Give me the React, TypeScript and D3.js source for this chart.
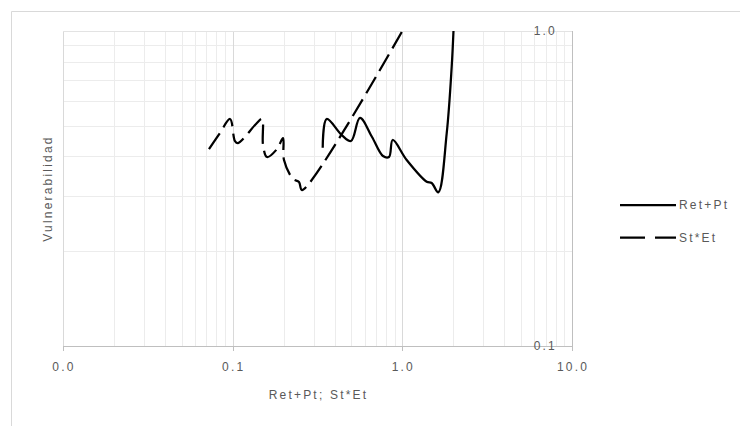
import React from "react";
import * as d3 from "d3";

// Ret+Pt series (x, vulnerability)
const retPtX = [0.3394, 0.3583, 0.4391, 0.4982, 0.5628, 0.6627, 0.7691, 0.8346, 0.8774, 1.061, 1.392, 1.489, 1.629, 1.826, 1.954, 2.002];
const retPtY = [0.4261, 0.5256, 0.4675, 0.4474, 0.5295, 0.4608, 0.401, 0.3981, 0.4508, 0.3895, 0.3324, 0.3293, 0.3075, 0.4733, 0.7703, 1.0];

// St*Et series
const stEtX = [0.0725, 0.0842, 0.0965, 0.1032, 0.1075, 0.1373, 0.1489, 0.151, 0.1594, 0.1825, 0.198, 0.2007, 0.2268, 0.246, 0.2562, 1.0];
const stEtY = [0.422, 0.4747, 0.5256, 0.4474, 0.4409, 0.5069, 0.5256, 0.4345, 0.3981, 0.422, 0.4573, 0.3895, 0.339, 0.3316, 0.3127, 1.0];

const xTickValues = [0.01, 0.1, 1, 10];
const xTickLabels = ["0.0", "0.1", "1.0", "10.0"];
const yTickValues = [0.1, 1];
const yTickLabels = ["0.1", "1.0"];

const seriesNames = ["Ret+Pt", "St*Et"];
const xTitle = "Ret+Pt; St*Et";
const yTitle = "Vulnerabilidad";

const W = 740;
const H = 426;
const left = 63;
const right = 572;
const top = 31;
const bottom = 346;

const textColor = "#595959";
const font = "'Liberation Sans', Arial, sans-serif";

export default function App() {
  const x = d3.scaleLog().domain([0.01, 10]).range([left, right]);
  const y = d3.scaleLog().domain([0.1, 1]).range([bottom, top]);

  const minorX: number[] = [];
  for (const dec of [0.01, 0.1, 1]) for (let k = 2; k <= 9; k++) minorX.push(dec * k);
  const minorY: number[] = [];
  for (let k = 2; k <= 9; k++) minorY.push(0.1 * k);

  const line = d3
    .line<[number, number]>()
    .x((d) => x(d[0]))
    .y((d) => y(d[1]))
    .curve(d3.curveCatmullRom.alpha(0.5));

  const solidPts = retPtX.map((v, i) => [v, retPtY[i]] as [number, number]);
  const dashPts = stEtX.map((v, i) => [v, stEtY[i]] as [number, number]);

  const textStyle = { fontFamily: font, fontSize: 12, fill: textColor, letterSpacing: "2.2px" } as React.CSSProperties;

  return (
    <svg width={W} height={H} style={{ position: "absolute", left: 0, top: 0 }}>
      <rect width={W} height={H} fill="#fff" />
      {/* chart frame */}
      <path d={`M11.5,${H} V11.5 H${W}`} fill="none" stroke="#d9d9d9" strokeWidth={1} />

      {/* minor gridlines */}
      {minorX.map((v) => (
        <line key={"mx" + v} x1={Math.round(x(v)) + 0.5} x2={Math.round(x(v)) + 0.5} y1={top} y2={bottom} stroke="#ececec" />
      ))}
      {minorY.map((v) => (
        <line key={"my" + v} y1={Math.round(y(v)) + 0.5} y2={Math.round(y(v)) + 0.5} x1={left} x2={right} stroke="#ececec" />
      ))}
      {/* major gridlines */}
      {xTickValues.slice(0, 3).map((v) => (
        <line key={"Mx" + v} x1={Math.round(x(v)) + 0.5} x2={Math.round(x(v)) + 0.5} y1={top} y2={bottom} stroke="#d9d9d9" />
      ))}
      <line x1={left} x2={right} y1={top + 0.5} y2={top + 0.5} stroke="#e3e3e3" />

      {/* axes */}
      <line x1={left} x2={right + 1} y1={bottom + 0.5} y2={bottom + 0.5} stroke="#bfbfbf" />
      <line x1={right + 0.5} x2={right + 0.5} y1={top} y2={bottom + 5} stroke="#bfbfbf" />
      {xTickValues.map((v) => (
        <line key={"xt" + v} x1={Math.round(x(v)) + 0.5} x2={Math.round(x(v)) + 0.5} y1={bottom} y2={bottom + 5} stroke="#bfbfbf" />
      ))}

      {/* tick labels */}
      {xTickValues.map((v, i) => (
        <text key={"xl" + v} x={x(v) + 1} y={371} textAnchor="middle" style={textStyle}>
          {xTickLabels[i]}
        </text>
      ))}
      {yTickValues.map((v, i) => (
        <text key={"yl" + v} x={557} y={y(v) + 4} textAnchor="end" style={textStyle}>
          {yTickLabels[i]}
        </text>
      ))}

      {/* axis titles */}
      <text x={(left + right) / 2 + 1} y={399} textAnchor="middle" style={textStyle}>
        {xTitle}
      </text>
      <text
        transform={`translate(52,${(top + bottom) / 2}) rotate(-90)`}
        textAnchor="middle"
        style={textStyle}
      >
        {yTitle}
      </text>

      {/* series */}
      <path d={line(dashPts) ?? ""} fill="none" stroke="#000" strokeWidth={2.25} strokeDasharray="19 7" />
      <path d={line(solidPts) ?? ""} fill="none" stroke="#000" strokeWidth={2.25} strokeLinejoin="round" />

      {/* legend */}
      <line x1={620} x2={676} y1={205} y2={205} stroke="#000" strokeWidth={2.25} />
      <text x={679} y={209} style={textStyle}>{seriesNames[0]}</text>
      <line x1={620} x2={676} y1={237.5} y2={237.5} stroke="#000" strokeWidth={2.25} strokeDasharray="25 10" />
      <text x={679} y={241.5} style={textStyle}>{seriesNames[1]}</text>
    </svg>
  );
}
